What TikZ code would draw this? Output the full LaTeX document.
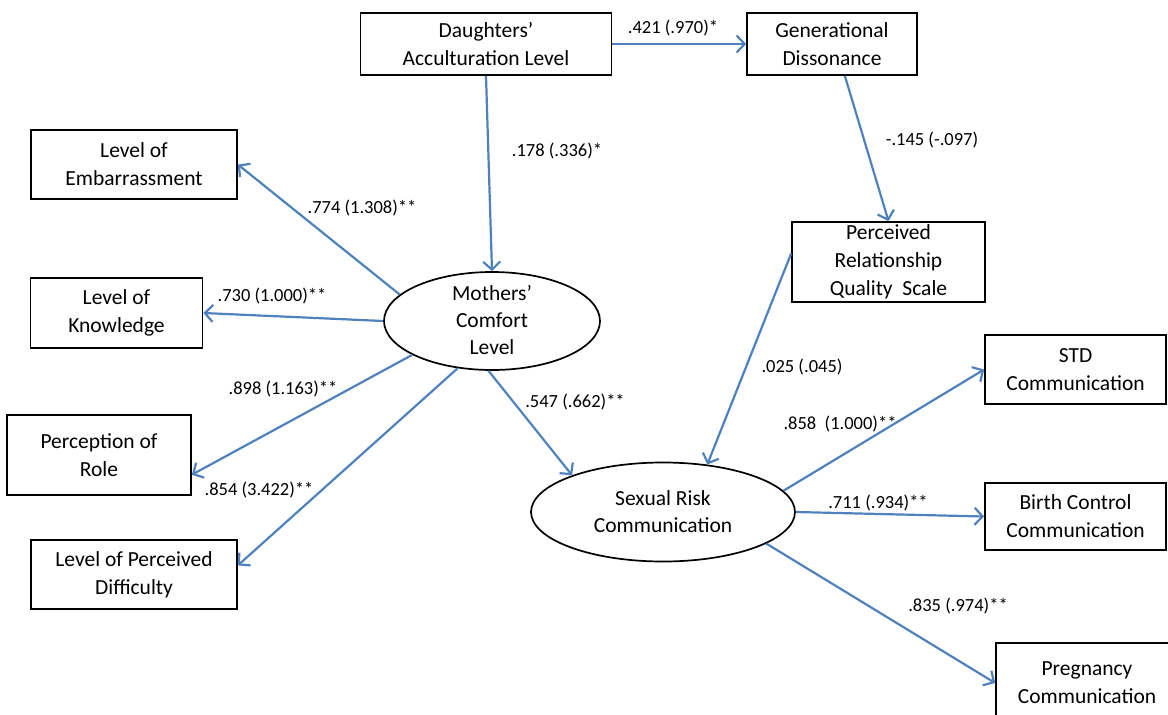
\documentclass[tikz,border=0pt]{standalone}
\usepackage{fontspec}
\setmainfont{Carlito}
\usetikzlibrary{arrows.meta,shapes.geometric}
\definecolor{pathblue}{RGB}{79,129,189}
\begin{document}
\begin{tikzpicture}[x=1pt,y=-1pt,
  box/.style={draw=black, line width=1.7pt, fill=white, inner sep=0pt, align=center,
              font=\fontsize{21.5}{28}\selectfont},
  latent/.style={draw=black, line width=1.7pt, fill=white, ellipse, inner sep=0pt},
  ltext/.style={inner sep=0pt, align=center, font=\fontsize{21.5}{27}\selectfont},
  coef/.style={inner sep=0pt, font=\fontsize{18.5}{20}\selectfont},
  arr/.style={draw=pathblue, line width=2.2pt, -{Straight Barb[length=8pt,width=17pt,line width=2.2pt]}}
]
\useasboundingbox (0,0) rectangle (1168,715);
\clip (0,0) rectangle (1168,715);

% observed variables
\node[box, minimum width=251, minimum height=62] (dal) at (486,44) {Daughters’\\Acculturation Level};
\node[box, minimum width=170, minimum height=62] (gd) at (832,44) {Generational\\Dissonance};
\node[box, minimum width=206, minimum height=69] (emb) at (134,164.5) {Level of\\Embarrassment};
\node[box, minimum width=172, minimum height=70] (kno) at (116.5,313) {Level of\\Knowledge};
\node[box, minimum width=184, minimum height=80] (role) at (99,455) {Perception of\\Role};
\node[box, minimum width=206, minimum height=69] (diff) at (134,574.5) {Level of Perceived\\Difficulty};
\node[box, minimum width=193, minimum height=80] (prq) at (888.5,262) {Perceived\\Relationship\\Quality~ Scale};
\node[box, minimum width=181, minimum height=69] (std) at (1075.5,369.5) {STD\\Communication};
\node[box, minimum width=181, minimum height=67] (bc) at (1075.5,516.5) {Birth Control\\Communication};
\node[box, minimum width=182, minimum height=80] (preg) at (1087,683) {Pregnancy\\Communication};

% latent variables
\node[latent, minimum width=216, minimum height=98] (mcl) at (492,321) {};
\node[ltext] (mcltext) at (492,320) {Mothers’\\Comfort\\Level};
\node[latent, minimum width=264, minimum height=99] (src) at (663,512) {};
\node[ltext] (srctext) at (663,512) {Sexual Risk\\Communication};

% paths
\draw[arr] (dal.east) -- (gd.west);
\draw[arr] (dal.south) -- (mcl.north);
\draw[arr] (gd.-68) -- (prq.north);
\draw[arr] (prq.175) -- (src.47);
\draw[arr] (mcl.164) -- (emb.east);
\draw[arr] (mcl.west) -- (kno.east);
\draw[arr] (mcl.203) -- (role.-12);
\draw[arr] (mcl.234) -- (diff.5);
\draw[arr] (mcl.266) -- (src.158);
\draw[arr] (src.10) -- (std.west);
\draw[arr] (src.east) -- (bc.west);
\draw[arr] (src.-17) -- (preg.west);

% path coefficients
\node[coef] (c1) at (673,28) {.421 (.970)*};
\node[coef] (c2) at (557,151) {.178 (.336)*};
\node[coef] (c3) at (932,140) {-.145 (-.097)};
\node[coef] (c4) at (362,208) {.774 (1.308)**};
\node[coef] (c5) at (272,296) {.730 (1.000)**};
\node[coef] (c6) at (283,389) {.898 (1.163)**};
\node[coef] (c7) at (259,490) {.854 (3.422)**};
\node[coef] (c8) at (575,402) {.547 (.662)**};
\node[coef] (c9) at (802,367) {.025 (.045)};
\node[coef] (c10) at (840,424) {.858~ (1.000)**};
\node[coef] (c11) at (878,503) {.711 (.934)**};
\node[coef] (c12) at (958,606) {.835 (.974)**};
\end{tikzpicture}
\end{document}
